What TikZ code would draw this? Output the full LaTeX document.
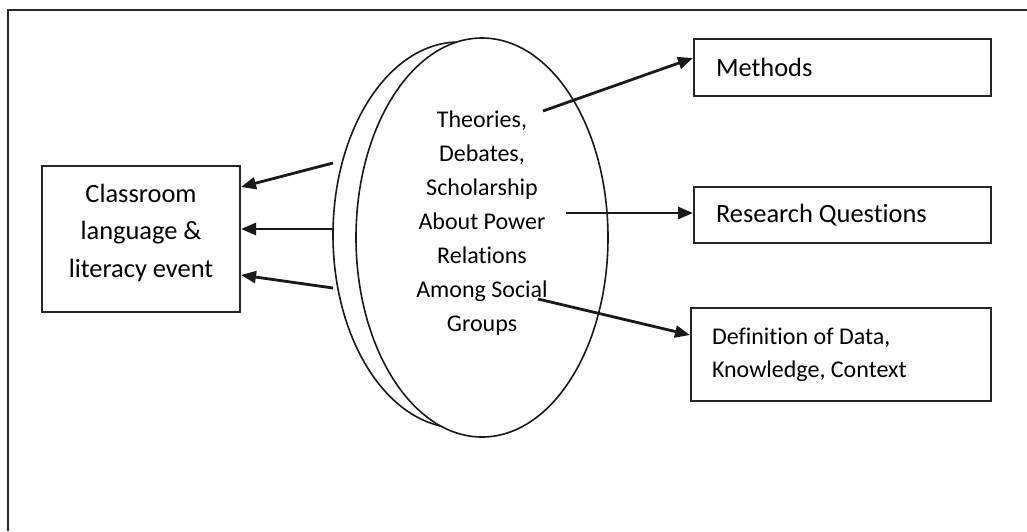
\documentclass[tikz,border=0pt]{standalone}
\usepackage{fontspec}
\setmainfont{Carlito}[Ligatures={NoCommon,NoRare,NoContextual}]
\usetikzlibrary{shapes.geometric,arrows.meta,positioning}
\begin{document}
\begin{tikzpicture}[x=1pt,y=-1pt,
  txt/.style={text=black},
  boxed/.style={draw=black!85, line width=2pt, inner sep=0pt},
  rbox/.style={boxed, txt, align=flush left, inner xsep=22pt, text width=253pt, font=\fontsize{26.4}{32}\selectfont},
  oval/.style={ellipse, draw=black!90, line width=1.6pt, fill=white, inner sep=0pt, minimum width=252pt},
  conn/.style={line width=2.8pt, draw=black!90, -{Triangle[length=15pt,width=12pt]}},
  frame/.style={line width=2pt, draw=black!85}]
\useasboundingbox (0,0) rectangle (1027,531);
% outer frame (top and left only)
\coordinate (f1) at (1027,10);
\coordinate (f2) at (8,10);
\coordinate (f3) at (8,531);
\draw[frame] (f1) -- (f2) -- (f3);
% ellipses
\node[oval, minimum height=386pt] (back) at (459,235) {};
\node[oval, minimum height=399pt] (front) at (482,237.5) {};
\node[txt, align=center, font=\fontsize{24}{34}\selectfont] (ftxt) at (482,223.5)
  {Theories,\\Debates,\\Scholarship\\About Power\\Relations\\Among Social\\Groups};
% left box
\node[boxed, minimum width=198pt, minimum height=146pt] (cls) at (141,239) {};
\node[txt, align=center, font=\fontsize{26.4}{37.5}\selectfont] (clst) at (141,232.5)
  {Classroom\\language \&\\literacy event};
% right boxes
\node[rbox, minimum height=57pt] (meth) at (842.5,67.5) {Methods};
\node[rbox, minimum height=56pt] (rq) at (842.5,215) {Research Questions};
\node[rbox, inner xsep=21pt, text width=258pt, minimum height=93pt, font=\fontsize{24}{33}\selectfont] (def) at (841,354.5)
  {Definition of Data,\\Knowledge, Context};
% arrow start points
\coordinate (sm) at (543,111);
\coordinate (sr) at (566,213);
\coordinate (sd) at (538,299);
\coordinate (l1) at (333,163);
\coordinate (l2) at (333,229);
\coordinate (l3) at (333,288);
% connectors
\draw[conn] (sm) -- ([yshift=9.5pt]meth.west);
\draw[conn] (sr) -- ([yshift=2pt]rq.west);
\draw[conn] (sd) -- ([yshift=19.5pt]def.west);
\draw[conn] (l1) -- ([yshift=52pt]cls.east);
\draw[conn] (l2) -- ([yshift=10pt]cls.east);
\draw[conn] (l3) -- ([yshift=-36pt]cls.east);
\end{tikzpicture}
\end{document}
